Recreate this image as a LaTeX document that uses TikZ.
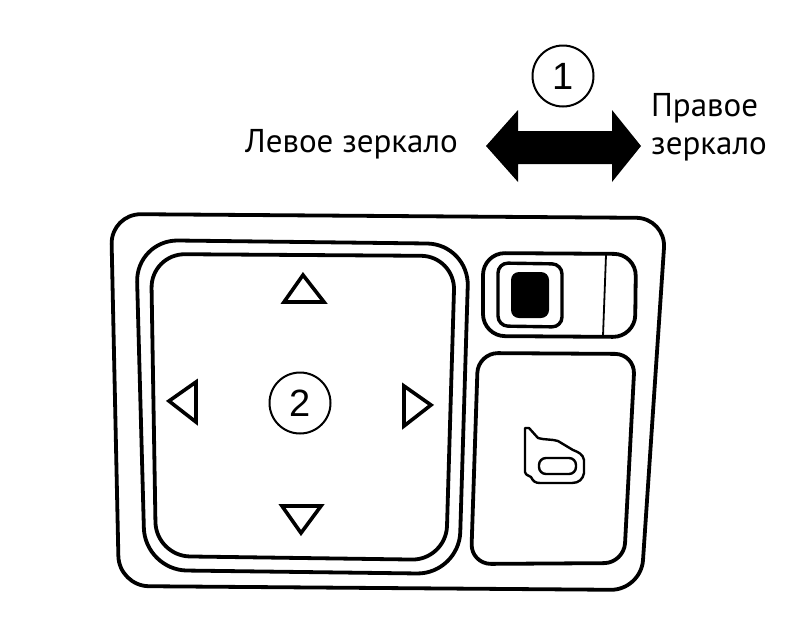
\documentclass[tikz,border=0pt]{standalone}
\usepackage{fontspec}
\setmainfont{PT Sans}
\newfontfamily\digitfont{Liberation Sans}
\tikzset{
  panel/.style={draw=black,line width=3.8pt,line join=round},
  thinpanel/.style={draw=black,line width=3.4pt,line join=round},
  marker/.style={draw=black,line width=3.6pt,fill=white,line join=miter},
  numcircle/.style={circle,draw=black,line width=2pt,minimum size=61pt,inner sep=0pt,font=\digitfont\fontsize{38}{38}\selectfont},
  caption/.style={inner sep=0pt,font=\fontsize{33}{36}\selectfont}
}
\begin{document}
\begin{tikzpicture}[x=1pt,y=-1pt]
  \useasboundingbox (0,0) rectangle (800,635);

  % labels and travel arrow
  \node[numcircle] (one) at (563,76) {1};
  \node[caption,anchor=base west] (left) at (245,152) {Левое зеркало};
  \node[caption,anchor=base west] (righta) at (651,116) {Правое};
  \node[caption,anchor=base west] (rightb) at (651,154) {зеркало};
  \fill[black] (486,146) -- (518,110) -- (518,131) -- (612,131) -- (612,110)
    -- (641,146) -- (612,182) -- (612,164) -- (518,164) -- (518,182) -- cycle;

  % housing
  \draw[panel,rounded corners=30pt] (111,214) -- (666,218) -- (641,590) -- (119,586) -- cycle;

  % mirror pad
  \draw[panel,rounded corners=42pt] (136,240) -- (469,244) -- (459,574) -- (145,570) -- cycle;
  \draw[panel,rounded corners=34pt] (151,254) -- (455,256) -- (446,560) -- (156,556) -- cycle;

  \foreach \ax/\ay/\bx/\by/\cx/\cy in {303/275/284/302/324/302, 169/401/196/382/196/422,
      431/405/404/386/404/426, 301/533/282/506/321/506}
    \draw[marker] (\ax,\ay) -- (\bx,\by) -- (\cx,\cy) -- cycle;
  \node[numcircle] (two) at (300,403) {2};

  % selector switch
  \draw[panel,rounded corners=22pt] (483,253) -- (636,254) -- (635,337) -- (483,336) -- cycle;
  \draw[thinpanel,rounded corners=10pt] (498,263) -- (562,264) -- (562,327) -- (498,326) -- cycle;
  \fill[black,rounded corners=8pt] (511,272) rectangle (549,318);
  \draw[line width=1.8pt] (606,255) -- (603,336);

  % fold button with icon
  \draw[panel,rounded corners=20pt] (478,353) -- (635,354) -- (624,563) -- (471,564) -- cycle;
  \draw[line width=2.4pt,line join=round] (525,428) -- (525,472) .. controls (526,476) and (529,475) .. (531,477)
    .. controls (533,481) and (535,483) .. (540,483) -- (572,483)
    .. controls (579,483) and (583,479) .. (584,473) -- (584,460)
    .. controls (583,454) and (578,452) .. (573,450) -- (558,441)
    .. controls (552,439) and (544,440) .. (538,438) -- (529,428) -- cycle;
  \draw[line width=2.4pt,rounded corners=7pt] (539,458) rectangle (576,474);
\end{tikzpicture}
\end{document}
